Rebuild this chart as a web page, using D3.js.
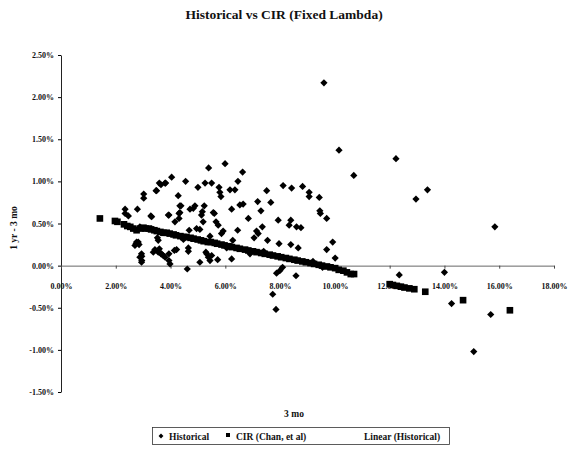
<!DOCTYPE html>
<html>
<head>
<meta charset="utf-8">
<script src="https://cdn.jsdelivr.net/npm/d3@7"></script>
<style>
  body { margin: 0; background: #fff; }
  text { font-family: "Liberation Serif", "Times New Roman", serif; fill: #111; }
</style>
</head>
<body>
<svg id="canvas"></svg>
<script>
let width = 575
let height = 453

let titleText = 'Historical vs CIR (Fixed Lambda)'
let xLabel = '3 mo'
let yLabel = '1 yr - 3 mo'

let xTicks = [0, 2, 4, 6, 8, 10, 12, 14, 16, 18]
let yTicks = [-1.5, -1.0, -0.5, 0, 0.5, 1.0, 1.5, 2.0, 2.5]

// historical spread (3 mo rate %, 1yr-3mo spread %)
let historical = [
  [9.60,2.17],[10.15,1.37],[5.39,1.16],[5.99,1.21],[4.04,1.05],[3.59,0.98],[3.82,0.98],[4.55,1.00],
  [6.63,1.11],[6.46,1.00],[5.26,0.98],[5.50,0.98],[5.00,0.93],[5.77,0.93],[5.80,0.87],[5.84,0.82],
  [6.17,0.90],[6.35,0.90],[3.47,0.89],[3.02,0.85],[3.02,0.80],[4.28,0.83],[2.34,0.67],[2.34,0.62],
  [2.46,0.59],[2.79,0.67],[3.28,0.59],[3.94,0.60],[4.34,0.71],[4.31,0.62],[4.31,0.56],[4.71,0.67],
  [4.89,0.71],[4.83,0.68],[5.23,0.71],[5.16,0.64],[5.13,0.60],[5.19,0.52],[5.60,0.62],[5.66,0.52],
  [5.74,0.48],[5.86,0.38],[6.23,0.67],[6.53,0.72],[6.45,0.42],[6.84,0.56],[7.18,0.76],[7.51,0.89],
  [7.66,0.75],[7.30,0.65],[8.11,0.95],[8.42,0.92],[8.82,0.94],[9.06,0.87],[9.06,0.82],[9.43,0.81],
  [9.45,0.65],[9.47,0.62],[9.70,0.56],[7.93,0.54],[8.39,0.54],[8.33,0.48],[8.60,0.46],[8.76,0.45],
  [7.35,0.46],[7.20,0.38],[7.05,0.33],[7.54,0.30],[7.96,0.26],[8.39,0.25],[8.66,0.21],[9.92,0.28],
  [9.70,0.19],[10.01,0.09],[8.09,-0.02],[7.99,-0.06],[7.87,-0.09],[8.58,-0.12],[4.61,-0.04],[3.94,0.14],
  [3.94,0.06],[3.98,0.02],[2.74,0.26],[2.82,0.28],[2.94,0.14],[2.88,0.10],[2.94,0.04],[3.55,0.30],
  [3.37,0.16],[3.59,0.20],[3.65,0.14],[3.73,0.12],[4.22,0.19],[4.65,0.21],[4.65,0.17],[5.07,0.04],
  [5.32,0.14],[5.38,0.10],[5.44,0.06],[5.72,0.07],[6.23,0.08],[6.27,0.30],[4.95,0.44],[5.07,0.43],
  [4.68,0.42],[10.69,1.07],[12.23,1.27],[12.96,0.79],[13.38,0.90],[15.84,0.46],[12.35,-0.11],[14.00,-0.08],
  [14.26,-0.45],[15.69,-0.58],[15.07,-1.02],[7.73,-0.34],[7.85,-0.52],[5.92,0.41],[5.44,0.35],[7.14,0.41],
  [5.29,0.16],[5.50,0.12],[4.16,0.52],[4.38,0.71],[4.34,0.63],[5.56,0.63],[3.31,0.58],[3.92,0.60],
  [2.76,0.28],[2.85,0.25],[2.70,0.24],[3.43,0.19],[3.55,0.16],[3.67,0.14],[3.80,0.10],[2.95,0.11],
  [2.95,0.06],[4.14,0.18],[3.49,0.89],[3.65,0.96],[3.80,0.98],[6.65,0.73],[2.88,0.46],[3.52,0.33],
  [4.47,0.31],[6.05,0.21],[6.90,0.14],[7.40,0.17],[9.20,0.05],[9.55,-0.02]
]

// CIR model (Chan, et al)
let cir = [
  [1.42,0.56],[1.97,0.53],[2.06,0.52],[2.30,0.49],[2.42,0.47],[2.53,0.46],[2.64,0.44],[2.76,0.42],
  [2.90,0.44],[3.01,0.45],[3.09,0.44],[3.21,0.44],[3.29,0.43],[3.41,0.42],[3.50,0.41],[3.63,0.40],
  [3.74,0.39],[3.86,0.39],[3.97,0.38],[4.11,0.37],[4.20,0.36],[4.36,0.35],[4.47,0.34],[4.58,0.34],
  [4.73,0.33],[4.84,0.32],[4.99,0.31],[5.11,0.30],[5.21,0.29],[5.36,0.28],[5.47,0.28],[5.61,0.27],
  [5.70,0.26],[5.86,0.25],[5.97,0.24],[6.12,0.23],[6.24,0.22],[6.41,0.21],[6.53,0.20],[6.72,0.19],
  [6.84,0.18],[7.01,0.17],[7.14,0.16],[7.31,0.15],[7.44,0.14],[7.62,0.13],[7.74,0.12],[7.91,0.11],
  [8.04,0.10],[8.21,0.09],[8.34,0.08],[8.52,0.07],[8.64,0.06],[8.81,0.05],[8.94,0.04],[9.11,0.03],
  [9.24,0.02],[9.41,0.01],[9.53,0.00],[9.71,-0.01],[9.84,-0.02],[10.01,-0.03],[10.14,-0.05],[10.31,-0.06],
  [10.44,-0.08],[10.58,-0.10],[10.70,-0.10],[12.00,-0.22],[12.12,-0.23],[12.26,-0.24],[12.41,-0.25],
  [12.54,-0.26],[12.72,-0.27],[12.90,-0.28],[13.30,-0.31],[14.68,-0.41],[16.39,-0.53]
]

let svg = d3.select('#canvas')
svg.attr('width', width).attr('height', height)

let xScale = d3.scaleLinear().domain([0, 18]).range([61, 554])
let yScale = d3.scaleLinear().domain([-1.5, 2.5]).range([392, 55])

let fmt = (d) => d.toFixed(2) + '%'

// title
svg.append('text')
    .attr('x', 284)
    .attr('y', 19)
    .attr('text-anchor', 'middle')
    .style('font-size', '13.5px')
    .style('font-weight', 'bold')
    .text(titleText)

// y axis
let yAxis = d3.axisLeft(yScale).tickValues(yTicks).tickFormat(fmt).tickSize(3).tickSizeOuter(0)
let gy = svg.append('g')
    .attr('transform', 'translate(' + xScale(0) + ', 0)')
    .call(yAxis)
gy.selectAll('text').style('font-size', '8px').style('font-weight', 'bold').attr('dx', '-1')
gy.select('.domain').attr('stroke', '#222')

// x axis through zero
let xAxis = d3.axisBottom(xScale).tickValues(xTicks).tickFormat(fmt).tickSize(3).tickSizeOuter(0)
let gx = svg.append('g')
    .attr('transform', 'translate(0, ' + yScale(0) + ')')
    .call(xAxis)
gx.selectAll('text').style('font-size', '8px').style('font-weight', 'bold').attr('y', 18)
gx.select('.domain').attr('stroke', '#666')
gx.selectAll('.tick line').attr('stroke', '#444')

// axis labels
svg.append('text')
    .attr('transform', 'translate(17, 228) rotate(-90)')
    .attr('text-anchor', 'middle')
    .style('font-size', '9.5px')
    .style('font-weight', 'bold')
    .text(yLabel)

svg.append('text')
    .attr('x', 294)
    .attr('y', 417)
    .attr('text-anchor', 'middle')
    .style('font-size', '9.5px')
    .style('font-weight', 'bold')
    .text(xLabel)

let diamond = d3.symbol().type(d3.symbolSquare).size(26)
let square = d3.symbol().type(d3.symbolSquare).size(44)

svg.append('g').selectAll('path')
    .data(historical)
    .enter()
    .append('path')
    .attr('d', diamond)
    .attr('fill', '#000')
    .attr('transform', (item) => {
        return 'translate(' + xScale(item[0]) + ',' + yScale(item[1]) + ') rotate(45)'
    })

svg.append('g').selectAll('path')
    .data(cir)
    .enter()
    .append('path')
    .attr('d', square)
    .attr('fill', '#000')
    .attr('transform', (item) => {
        return 'translate(' + xScale(item[0]) + ',' + yScale(item[1]) + ')'
    })

// legend
let legend = svg.append('g')
legend.append('rect')
    .attr('x', 152.5).attr('y', 427.5)
    .attr('width', 297).attr('height', 17)
    .attr('fill', 'none').attr('stroke', '#333').attr('stroke-width', 0.8)

legend.append('path')
    .attr('d', d3.symbol().type(d3.symbolSquare).size(12))
    .attr('transform', 'translate(161, 436) rotate(45)')
legend.append('text').attr('x', 169).attr('y', 439.5).style('font-size', '9.5px').style('font-weight', 'bold').text('Historical')

legend.append('path')
    .attr('d', d3.symbol().type(d3.symbolSquare).size(16))
    .attr('transform', 'translate(228, 435)')
legend.append('text').attr('x', 236).attr('y', 439.5).style('font-size', '9.5px').style('font-weight', 'bold').text('CIR (Chan, et al)')

legend.append('text').attr('x', 364).attr('y', 439.5).style('font-size', '9.5px').style('font-weight', 'bold').text('Linear (Historical)')
</script>
</body>
</html>
